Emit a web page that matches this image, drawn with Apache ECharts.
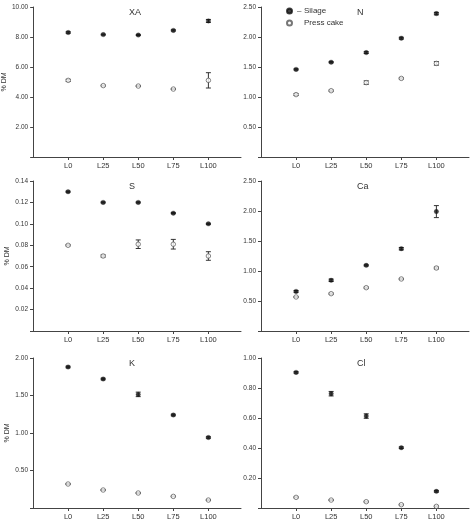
<!DOCTYPE html>
<html>
<head>
<meta charset="utf-8">
<script src="https://cdn.jsdelivr.net/npm/echarts@6/dist/echarts.min.js"></script>
<style>
html,body{margin:0;padding:0;background:#fff;}
#chart{width:474px;height:524px;}
</style>
</head>
<body>
<div id="chart"></div>
<script>
const categories = ['L0','L25','L50','L75','L100'];
const panelTitles = ['XA','N','S','Ca','K','Cl'];
const yMax = [10, 2.5, 0.14, 2.5, 2, 1];
const yStep = [2, 0.5, 0.02, 0.5, 0.5, 0.2];

const xaSilage = [8.30, 8.16, 8.13, 8.44, 9.07];
const xaSilageErr = [0.05, 0.03, 0.03, 0.04, 0.10];
const xaPress = [5.11, 4.76, 4.73, 4.53, 5.11];
const xaPressErr = [0.07, 0.03, 0.03, 0.03, 0.51];

const nSilage = [1.46, 1.58, 1.74, 1.98, 2.39];
const nSilageErr = [0.01, 0.01, 0.015, 0.015, 0.02];
const nPress = [1.04, 1.105, 1.24, 1.31, 1.56];
const nPressErr = [0.015, 0.01, 0.03, 0.01, 0.03];

const sSilage = [0.130, 0.120, 0.120, 0.110, 0.100];
const sSilageErr = [0.0005, 0.0005, 0.0005, 0.0005, 0.0005];
const sPress = [0.080, 0.070, 0.081, 0.081, 0.070];
const sPressErr = [0.0005, 0.001, 0.004, 0.0045, 0.004];

const caSilage = [0.66, 0.845, 1.094, 1.372, 1.99];
const caSilageErr = [0.015, 0.02, 0.01, 0.02, 0.10];
const caPress = [0.567, 0.622, 0.722, 0.867, 1.05];
const caPressErr = [0.005, 0.01, 0.01, 0.01, 0.015];

const kSilage = [1.88, 1.72, 1.515, 1.24, 0.94];
const kSilageErr = [0.01, 0.01, 0.03, 0.01, 0.01];
const kPress = [0.32, 0.24, 0.20, 0.155, 0.106];
const kPressErr = [0.005, 0.005, 0.005, 0.005, 0.005];

const clSilage = [0.904, 0.762, 0.613, 0.402, 0.111];
const clSilageErr = [0.005, 0.015, 0.015, 0.005, 0.005];
const clPress = [0.071, 0.053, 0.042, 0.022, 0.011];
const clPressErr = [0.003, 0.003, 0.003, 0.003, 0.003];

const silageSets = [xaSilage, nSilage, sSilage, caSilage, kSilage, clSilage];
const silageErrs = [xaSilageErr, nSilageErr, sSilageErr, caSilageErr, kSilageErr, clSilageErr];
const pressSets = [xaPress, nPress, sPress, caPress, kPress, clPress];
const pressErrs = [xaPressErr, nPressErr, sPressErr, caPressErr, kPressErr, clPressErr];

const FONT = '"Liberation Sans", Arial, sans-serif';
const AX = '#444';
const tickPos = [1, 2, 3, 4, 5];
const gridLeft = [33, 261];
const gridTop = [7, 181, 358];

const grids = [], xAxes = [], yAxes = [], series = [], graphics = [];

function errRender(params, api) {
  const x = api.value(0);
  const lo = api.coord([x, api.value(1)]);
  const hi = api.coord([x, api.value(2)]);
  const w = 2.5;
  const st = { stroke: '#333', lineWidth: 1 };
  return {
    type: 'group',
    children: [
      { type: 'line', shape: { x1: lo[0], y1: lo[1], x2: hi[0], y2: hi[1] }, style: st },
      { type: 'line', shape: { x1: lo[0] - w, y1: lo[1], x2: lo[0] + w, y2: lo[1] }, style: st },
      { type: 'line', shape: { x1: hi[0] - w, y1: hi[1], x2: hi[0] + w, y2: hi[1] }, style: st }
    ]
  };
}

for (let p = 0; p < 6; p++) {
  const col = p % 2, row = Math.floor(p / 2);
  grids.push({ left: gridLeft[col], top: gridTop[row], width: 208, height: 150 });
  xAxes.push({
    type: 'value', gridIndex: p, min: 0, max: 5.93, interval: 1,
    axisLine: { show: true, lineStyle: { color: AX, width: 1 } },
    axisTick: { show: true, customValues: tickPos, length: 3, lineStyle: { color: AX } },
    axisLabel: { customValues: tickPos, margin: 5, fontSize: 7.5, color: '#333', fontFamily: FONT,
      formatter: v => categories[Math.round(v) - 1] || '' },
    splitLine: { show: false }
  });
  yAxes.push({
    type: 'value', gridIndex: p, min: 0, max: yMax[p], interval: yStep[p],
    name: col === 0 ? '% DM' : '', nameLocation: 'middle', nameGap: 22, nameRotate: 90,
    nameTextStyle: { fontSize: 7, color: '#333', fontFamily: FONT },
    axisLine: { show: true, lineStyle: { color: AX, width: 1 } },
    axisTick: { show: true, length: 3, lineStyle: { color: AX } },
    axisLabel: { margin: 5, fontSize: 6.5, color: '#333', fontFamily: FONT,
      formatter: v => v === 0 ? '' : v.toFixed(2) },
    splitLine: { show: false }
  });
  const sil = silageSets[p], silE = silageErrs[p], pr = pressSets[p], prE = pressErrs[p];
  series.push({
    type: 'custom', xAxisIndex: p, yAxisIndex: p, renderItem: errRender, silent: true, z: 1,
    data: sil.map((v, i) => [i + 1, v - silE[i], v + silE[i]])
  });
  series.push({
    type: 'custom', xAxisIndex: p, yAxisIndex: p, renderItem: errRender, silent: true, z: 1,
    data: pr.map((v, i) => [i + 1, v - prE[i], v + prE[i]])
  });
  series.push({
    name: 'Silage', type: 'scatter', xAxisIndex: p, yAxisIndex: p, symbol: 'circle', symbolSize: 4.5, z: 3,
    itemStyle: { color: '#111', borderColor: '#111', borderWidth: 0.3 },
    data: sil.map((v, i) => [i + 1, v])
  });
  series.push({
    name: 'Press cake', type: 'scatter', xAxisIndex: p, yAxisIndex: p, symbol: 'circle', symbolSize: 4.5, z: 3,
    itemStyle: { color: '#fff', borderColor: '#555', borderWidth: 0.9 },
    data: pr.map((v, i) => [i + 1, v])
  });
  graphics.push({
    type: 'text', left: gridLeft[col] + 104 - 8, top: gridTop[row] + 1,
    style: { text: panelTitles[p], fontSize: 9, fill: '#333', font: '9px "Liberation Sans", Arial, sans-serif', align: 'center', width: 16 }
  });
}

const option = {
  backgroundColor: '#fff',
  animation: false,
  textStyle: { fontFamily: FONT },
  grid: grids,
  xAxis: xAxes,
  yAxis: yAxes,
  series: series,
  graphic: graphics,
  legend: {
    data: ['Silage', 'Press cake'],
    orient: 'vertical', left: 286, top: 6, padding: 0,
    itemWidth: 5, itemHeight: 5, itemGap: 2,
    icon: 'circle',
    selectedMode: false,
    textStyle: { fontSize: 8, color: '#333', fontFamily: FONT, lineHeight: 10,
      rich: { d: { width: 7, fontSize: 8, color: '#333' }, t: { fontSize: 8, color: '#333' } } },
    formatter: name => name === 'Silage' ? '{d|–}{t|Silage}' : '{d|}{t|Press cake}'
  }
};

const chart = echarts.init(document.getElementById('chart'), null, { renderer: 'canvas' });
chart.setOption(option);
</script>
</body>
</html>
